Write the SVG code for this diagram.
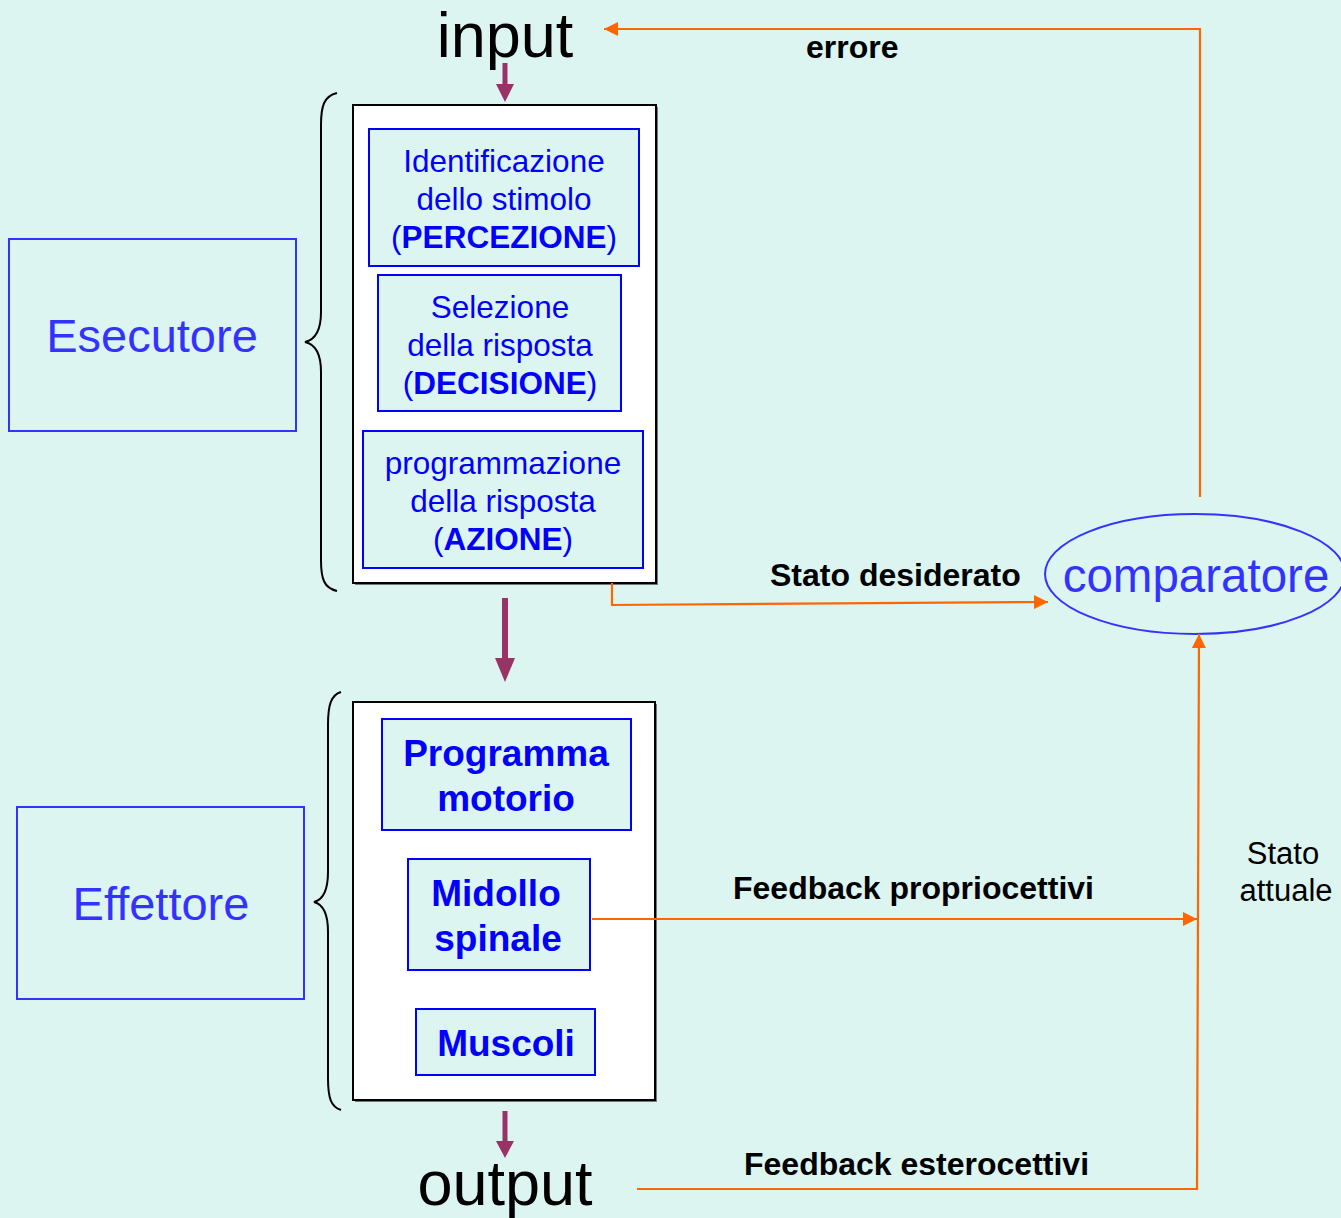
<svg xmlns="http://www.w3.org/2000/svg" width="1341" height="1218" viewBox="0 0 1341 1218">
  <defs>
    <marker id="arrOrange" viewBox="0 0 10 10" refX="10" refY="5" markerWidth="14" markerHeight="14" markerUnits="userSpaceOnUse" orient="auto">
      <path d="M0,0 L10,5 L0,10 Z" fill="#FF6600"/>
    </marker>
    <style>
      .bg { fill: #DCF5F0; }
      .outer { fill: #FFFFFF; stroke: #000000; stroke-width: 2; }
      .shadow { fill: #777777; }
      .inner { fill: #DCF5F0; stroke: #0000FF; stroke-width: 2; }
      .side { fill: #DCF5F0; stroke: #3333FF; stroke-width: 2; }
      .brace { fill: none; stroke: #000000; stroke-width: 2; }
      .flow { fill: none; stroke: #FF6600; stroke-width: 2.2; }
      .down { fill: #993366; }
      text { font-family: "Liberation Sans", Arial, sans-serif; }
      .t-in { font-size: 31.5px; fill: #0000FF; text-anchor: middle; }
      .t-bold { font-size: 37px; font-weight: bold; fill: #0000FF; text-anchor: middle; }
      .t-side { font-size: 47px; fill: #3333FF; text-anchor: middle; }
      .t-io { font-size: 63px; fill: #000000; text-anchor: middle; }
      .t-lbl { font-size: 32px; font-weight: bold; fill: #000000; }
      .t-reg { font-size: 31px; fill: #000000; text-anchor: middle; }
      .b { font-weight: bold; }
    </style>
  </defs>

  <rect class="bg" x="0" y="0" width="1341" height="1218"/>

  <!-- input / output labels -->
  <g id="input"><text class="t-io" x="505" y="57" font-size="62">input</text></g>
  <g id="output"><text class="t-io" x="505" y="1205">output</text></g>

  <!-- executor block -->
  <g id="esecutore-stack">
    <rect class="shadow" x="355" y="107" width="303" height="478"/>
    <rect class="outer" x="353" y="105" width="303" height="478"/>
  </g>
  <g id="percezione">
    <rect class="inner" x="369" y="129" width="270" height="137"/>
    <text class="t-in" x="504" y="172">Identificazione</text>
    <text class="t-in" x="504" y="210">dello stimolo</text>
    <text class="t-in" x="504" y="248">(<tspan class="b">PERCEZIONE</tspan>)</text>
  </g>
  <g id="decisione">
    <rect class="inner" x="378" y="275" width="243" height="136"/>
    <text class="t-in" x="500" y="318">Selezione</text>
    <text class="t-in" x="500" y="356">della risposta</text>
    <text class="t-in" x="500" y="394">(<tspan class="b">DECISIONE</tspan>)</text>
  </g>
  <g id="azione">
    <rect class="inner" x="363" y="431" width="280" height="137"/>
    <text class="t-in" x="503" y="474">programmazione</text>
    <text class="t-in" x="503" y="512">della risposta</text>
    <text class="t-in" x="503" y="550">(<tspan class="b">AZIONE</tspan>)</text>
  </g>

  <!-- effector block -->
  <g id="effettore-stack">
    <rect class="shadow" x="355" y="704" width="302" height="398"/>
    <rect class="outer" x="353" y="702" width="302" height="398"/>
  </g>
  <g id="programma-motorio">
    <rect class="inner" x="382" y="719" width="249" height="111"/>
    <text class="t-bold" x="506" y="766">Programma</text>
    <text class="t-bold" x="506" y="811">motorio</text>
  </g>
  <g id="midollo-spinale">
    <rect class="inner" x="408" y="859" width="182" height="111"/>
    <text class="t-bold" x="496" y="906">Midollo</text>
    <text class="t-bold" x="498" y="951">spinale</text>
  </g>
  <g id="muscoli">
    <rect class="inner" x="416" y="1009" width="179" height="66"/>
    <text class="t-bold" x="506" y="1056">Muscoli</text>
  </g>

  <!-- side labels with braces -->
  <g id="esecutore">
    <rect class="side" x="9" y="239" width="287" height="192"/>
    <text class="t-side" x="152" y="352">Esecutore</text>
    <path class="brace" d="M337,93 C324,96 321,106 321,125 L321,312 C321,332 314,340 305,342 C314,344 321,352 321,372 L321,560 C321,579 324,588 337,591"/>
  </g>
  <g id="effettore">
    <rect class="side" x="17" y="807" width="287" height="192"/>
    <text class="t-side" x="161" y="920">Effettore</text>
    <path class="brace" d="M341,692 C331,695 328,705 328,725 L328,872 C328,892 322,900 314,902 C322,904 328,912 328,932 L328,1078 C328,1098 331,1107 341,1110"/>
  </g>

  <!-- comparator -->
  <g id="comparatore">
    <ellipse cx="1195" cy="574" rx="150" ry="60" fill="none" stroke="#3333FF" stroke-width="2"/>
    <text x="1196" y="592" font-size="47.5" fill="#3333FF" text-anchor="middle">comparatore</text>
  </g>

  <!-- connectors -->
  <g id="connectors">
    <!-- main vertical flow -->
    <rect class="down" x="502.5" y="63" width="5" height="21"/>
    <path class="down" d="M496,84 L514,84 L505,102 Z"/>
    <rect class="down" x="502" y="598" width="6" height="60"/>
    <path class="down" d="M495,658 L515,658 L505,682 Z"/>
    <rect class="down" x="502.5" y="1111" width="5" height="30"/>
    <path class="down" d="M496,1141 L514,1141 L505,1158 Z"/>

    <!-- error feedback to input -->
    <polyline class="flow" points="1200,497 1200,29 604,29" marker-end="url(#arrOrange)"/>
    <text class="t-lbl" x="806" y="58">errore</text>

    <!-- desired state -->
    <polyline class="flow" points="612,583 612,605 1048,602" marker-end="url(#arrOrange)"/>
    <text class="t-lbl" x="770" y="586">Stato desiderato</text>

    <!-- proprioceptive feedback -->
    <line class="flow" x1="592" y1="919" x2="1197" y2="919" marker-end="url(#arrOrange)"/>
    <text class="t-lbl" x="733" y="899">Feedback propriocettivi</text>

    <!-- exteroceptive feedback, rising to comparator -->
    <polyline class="flow" points="637,1189 1197,1189 1199,634" marker-end="url(#arrOrange)"/>
    <text class="t-lbl" x="744" y="1175">Feedback esterocettivi</text>

    <text class="t-reg" x="1283" y="864">Stato</text>
    <text class="t-reg" x="1286" y="901">attuale</text>
  </g>
</svg>
